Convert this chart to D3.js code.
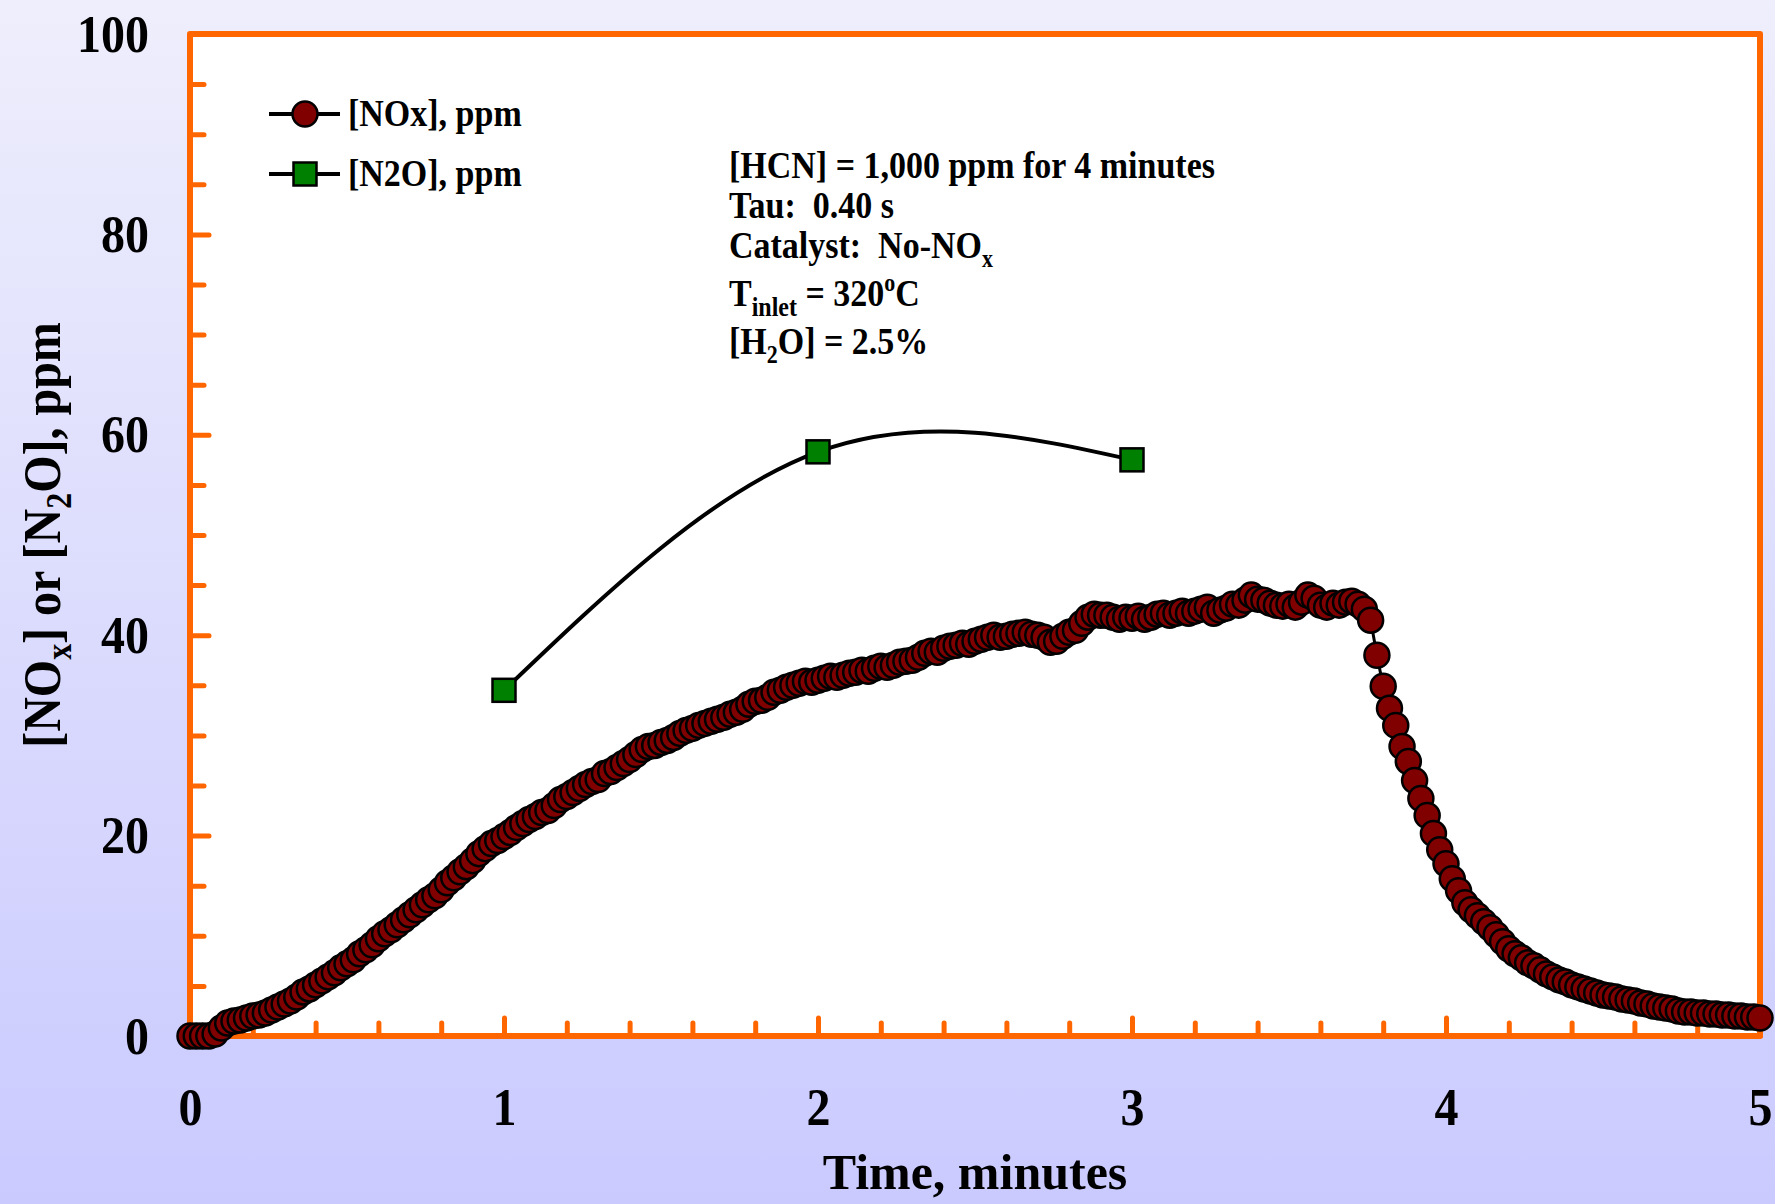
<!DOCTYPE html>
<html>
<head>
<meta charset="utf-8">
<style>
    body { margin: 0; }
    text { font-family: "Liberation Serif", "Times New Roman", serif; font-weight: bold; fill: #000; }
</style>
<script src="https://d3js.org/d3.v7.min.js"></script>
</head>
<body>
<svg width="1775" height="1204"></svg>
<script>

// NOx trace, time in minutes
var noxTime = [
    0,0.02,0.04,0.06,0.08,0.1,0.12,0.14,0.16,0.18,
    0.2,0.22,0.24,0.26,0.28,0.3,0.32,0.34,0.36,0.38,
    0.4,0.42,0.44,0.46,0.48,0.5,0.52,0.54,0.56,0.58,
    0.6,0.62,0.64,0.66,0.68,0.7,0.72,0.74,0.76,0.78,
    0.8,0.82,0.84,0.86,0.88,0.9,0.92,0.94,0.96,0.98,
    1,1.02,1.04,1.06,1.08,1.1,1.12,1.14,1.16,1.18,
    1.2,1.22,1.24,1.26,1.28,1.3,1.32,1.34,1.36,1.38,
    1.4,1.42,1.44,1.46,1.48,1.5,1.52,1.54,1.56,1.58,
    1.6,1.62,1.64,1.66,1.68,1.7,1.72,1.74,1.76,1.78,
    1.8,1.82,1.84,1.86,1.88,1.9,1.92,1.94,1.96,1.98,
    2,2.02,2.04,2.06,2.08,2.1,2.12,2.14,2.16,2.18,
    2.2,2.22,2.24,2.26,2.28,2.3,2.32,2.34,2.36,2.38,
    2.4,2.42,2.44,2.46,2.48,2.5,2.52,2.54,2.56,2.58,
    2.6,2.62,2.64,2.66,2.68,2.7,2.72,2.74,2.76,2.78,
    2.8,2.82,2.84,2.86,2.88,2.9,2.92,2.94,2.96,2.98,
    3,3.02,3.04,3.06,3.08,3.1,3.12,3.14,3.16,3.18,
    3.2,3.22,3.24,3.26,3.28,3.3,3.32,3.34,3.36,3.38,
    3.4,3.42,3.44,3.46,3.48,3.5,3.52,3.54,3.56,3.58,
    3.6,3.62,3.64,3.66,3.68,3.7,3.72,3.74,3.76,3.78,
    3.8,3.82,3.84,3.86,3.88,3.9,3.92,3.94,3.96,3.98,
    4,4.02,4.04,4.06,4.08,4.1,4.12,4.14,4.16,4.18,
    4.2,4.22,4.24,4.26,4.28,4.3,4.32,4.34,4.36,4.38,
    4.4,4.42,4.44,4.46,4.48,4.5,4.52,4.54,4.56,4.58,
    4.6,4.62,4.64,4.66,4.68,4.7,4.72,4.74,4.76,4.78,
    4.8,4.82,4.84,4.86,4.88,4.9,4.92,4.94,4.96,4.98,
    5
];
var noxValue = [
    0,0,0,0,0.2,0.8,1.3,1.5,1.6,1.8,
    2.0,2.1,2.3,2.6,2.9,3.2,3.5,3.9,4.4,4.7,
    5.1,5.5,5.9,6.3,6.8,7.2,7.6,8.2,8.6,9.1,
    9.7,10.2,10.6,11.1,11.6,12.1,12.6,13.1,13.6,14.0,
    14.6,15.3,15.8,16.4,16.9,17.5,18.2,18.7,19.2,19.5,
    19.9,20.3,20.8,21.2,21.6,21.9,22.3,22.5,23.0,23.6,
    23.9,24.3,24.7,25.1,25.4,25.6,26.2,26.4,26.8,27.2,
    27.6,28.1,28.6,28.9,29.0,29.3,29.5,29.8,30.2,30.5,
    30.7,31.0,31.2,31.4,31.6,31.8,32.1,32.3,32.6,33.1,
    33.4,33.5,33.8,34.3,34.5,34.8,35.0,35.2,35.4,35.3,
    35.5,35.7,35.9,35.8,36.0,36.2,36.3,36.5,36.4,36.7,
    36.9,36.8,37.0,37.3,37.4,37.5,37.8,38.2,38.4,38.3,
    38.7,38.9,39.0,39.2,39.1,39.4,39.6,39.8,40.0,39.8,
    39.9,40.1,40.2,40.3,40.1,40.0,39.8,39.3,39.4,39.9,
    40.3,40.5,41.2,41.8,42.1,42.0,42.0,41.8,41.6,41.8,
    41.7,41.9,41.6,41.8,42.1,42.2,42.0,42.2,42.4,42.2,
    42.4,42.6,42.8,42.2,42.5,42.7,43.1,43.0,43.5,44.0,
    43.6,43.5,43.2,43.0,42.9,43.1,42.8,43.3,44.0,43.7,
    43.0,42.8,43.2,43.0,43.3,43.4,43.1,42.6,41.5,38.0,
    34.9,32.7,31.0,28.9,27.4,25.5,23.7,22.0,20.2,18.6,
    17.2,15.7,14.5,13.3,12.6,12.0,11.4,10.8,10.1,9.4,
    8.7,8.2,7.8,7.3,7.0,6.6,6.2,5.9,5.6,5.4,
    5.1,4.9,4.7,4.5,4.3,4.1,4.0,3.9,3.7,3.6,
    3.5,3.3,3.2,3.0,2.9,2.8,2.7,2.5,2.4,2.4,
    2.3,2.3,2.2,2.2,2.1,2.1,2.0,2.0,1.9,1.9,
    1.8
];

// N2O samples
var n2oTime = [1, 2, 3];
var n2oValue = [34.5, 58.3, 57.5];

var xTicks = [0, 1, 2, 3, 4, 5];
var yTicks = [0, 20, 40, 60, 80, 100];
var legendLabels = ["[NOx], ppm", "[N2O], ppm"];

var orange = "#FF6600",
    stretch = " scale(1,1.12)";

var svg = d3.select("svg"),
    margin = {top: 34, right: 15, bottom: 168, left: 190},
    width = +svg.attr("width") - margin.left - margin.right,
    height = +svg.attr("height") - margin.top - margin.bottom;

var x = d3.scaleLinear().domain([0, 5]).range([0, width]),
    y = d3.scaleLinear().domain([0, 100]).range([height, 0]);

// background
var grad = svg.append("defs").append("linearGradient")
    .attr("id", "bg").attr("x1", 0).attr("y1", 0).attr("x2", 0).attr("y2", 1);
grad.append("stop").attr("offset", "0%").attr("stop-color", "#EEEEFC");
grad.append("stop").attr("offset", "100%").attr("stop-color", "#CACAFF");
svg.append("rect").attr("width", "100%").attr("height", "100%").attr("fill", "url(#bg)");

var g = svg.append("g")
    .attr("transform", "translate(" + margin.left + "," + margin.top + ")");

g.append("rect")
    .attr("width", width)
    .attr("height", height)
    .attr("fill", "#fff")
    .attr("stroke", orange)
    .attr("stroke-width", 6)
    .attr("stroke-linejoin", "round");

// ticks point inward
var xMinor = d3.range(0, 5.001, 0.2).filter(function(d) { return Math.abs(d - Math.round(d)) > 1e-6; }),
    yMinor = d3.range(0, 100.001, 5).filter(function(d) { return d % 20 != 0; });

function styleAxis(sel) {
    sel.select(".domain").remove();
    sel.selectAll(".tick line")
        .attr("stroke", orange)
        .attr("stroke-width", 5)
        .attr("stroke-linecap", "round");
}

g.append("g")
    .attr("transform", "translate(0," + height + ")")
    .call(d3.axisBottom(x).tickValues(xMinor).tickSize(-13).tickFormat(""))
    .call(styleAxis);

var xAxis = g.append("g")
    .attr("transform", "translate(0," + height + ")")
    .call(d3.axisBottom(x).tickValues(xTicks).tickSize(-18).tickFormat(d3.format("d")))
    .call(styleAxis);
xAxis.selectAll("text")
    .attr("y", null).attr("dy", null)
    .attr("transform", "translate(0,89)" + stretch)
    .style("font-size", "48px");

g.append("g")
    .call(d3.axisLeft(y).tickValues(yMinor).tickSize(-14).tickFormat(""))
    .call(styleAxis);

var yAxis = g.append("g")
    .call(d3.axisLeft(y).tickValues(yTicks).tickSize(-19).tickFormat(d3.format("d")))
    .call(styleAxis);
yAxis.selectAll("text")
    .attr("x", null).attr("dy", null)
    .attr("transform", "translate(-41,17)" + stretch)
    .attr("text-anchor", "end")
    .style("font-size", "48px");

// NOx series
var nox = noxTime.map(function(t, i) { return {t: t, v: noxValue[i]}; }),
    n2o = n2oTime.map(function(t, i) { return {t: t, v: n2oValue[i]}; });

g.append("path")
    .datum(nox)
    .attr("fill", "none")
    .attr("stroke", "#000")
    .attr("stroke-width", 3)
    .attr("d", d3.line()
        .x(function(d) { return x(d.t); })
        .y(function(d) { return y(d.v); }));

g.selectAll(".nox")
    .data(nox)
    .enter().append("circle")
    .attr("class", "nox")
    .attr("cx", function(d) { return x(d.t); })
    .attr("cy", function(d) { return y(d.v); })
    .attr("r", 12.5)
    .attr("fill", "#800000")
    .attr("stroke", "#000")
    .attr("stroke-width", 2.5);

// N2O series (smoothed line)
g.append("path")
    .datum(n2o)
    .attr("fill", "none")
    .attr("stroke", "#000")
    .attr("stroke-width", 4)
    .attr("d", d3.line()
        .curve(d3.curveNatural)
        .x(function(d) { return x(d.t); })
        .y(function(d) { return y(d.v); }));

g.selectAll(".n2o")
    .data(n2o)
    .enter().append("rect")
    .attr("class", "n2o")
    .attr("x", function(d) { return x(d.t) - 11.5; })
    .attr("y", function(d) { return y(d.v) - 11.5; })
    .attr("width", 23)
    .attr("height", 23)
    .attr("fill", "#008000")
    .attr("stroke", "#000")
    .attr("stroke-width", 2.5);

// legend
var legend = svg.append("g").attr("transform", "translate(269,114)");
legendLabels.forEach(function(label, i) {
    var row = legend.append("g").attr("transform", "translate(0," + (i * 60) + ")");
    row.append("line")
        .attr("x1", 0).attr("x2", 71)
        .attr("stroke", "#000").attr("stroke-width", 4);
    if (i == 0) {
        row.append("circle").attr("cx", 36).attr("r", 12.5)
            .attr("fill", "#800000").attr("stroke", "#000").attr("stroke-width", 2.5);
    } else {
        row.append("rect").attr("x", 24.5).attr("y", -11.5).attr("width", 23).attr("height", 23)
            .attr("fill", "#008000").attr("stroke", "#000").attr("stroke-width", 2.5);
    }
    row.append("text")
        .attr("transform", "translate(79,12)" + stretch)
        .style("font-size", "34px")
        .text(label);
});

// conditions note
var note = svg.append("g").attr("transform", "translate(729,0)").style("font-size", "34px");
function noteLine(yy) {
    return note.append("text").attr("transform", "translate(0," + yy + ")" + stretch);
}
noteLine(178).text("[HCN] = 1,000 ppm for 4 minutes");
noteLine(218).text("Tau:  0.40 s").attr("xml:space", "preserve");
var l3 = noteLine(258).attr("xml:space", "preserve");
l3.append("tspan").text("Catalyst:  No-NO");
l3.append("tspan").attr("dy", 8).style("font-size", "22px").text("x");
var l4 = noteLine(306);
l4.append("tspan").text("T");
l4.append("tspan").attr("dy", 9).style("font-size", "24px").text("inlet");
l4.append("tspan").attr("dy", -9).text(" = 320");
l4.append("tspan").attr("dy", -13).style("font-size", "22px").text("o");
l4.append("tspan").attr("dy", 13).text("C");
var l5 = noteLine(354);
l5.append("tspan").text("[H");
l5.append("tspan").attr("dy", 8).style("font-size", "22px").text("2");
l5.append("tspan").attr("dy", -8).text("O] = 2.5%");

// axis titles
svg.append("text")
    .attr("transform", "translate(975,1189)")
    .attr("text-anchor", "middle")
    .style("font-size", "50px")
    .text("Time, minutes");

var yTitle = svg.append("text")
    .attr("transform", "translate(60,535) rotate(-90)" + stretch)
    .attr("text-anchor", "middle")
    .style("font-size", "48px");
yTitle.append("tspan").text("[NO");
yTitle.append("tspan").attr("dy", 10).style("font-size", "32px").text("x");
yTitle.append("tspan").attr("dy", -10).text("] or [N");
yTitle.append("tspan").attr("dy", 10).style("font-size", "32px").text("2");
yTitle.append("tspan").attr("dy", -10).text("O], ppm");

</script>
</body>
</html>
